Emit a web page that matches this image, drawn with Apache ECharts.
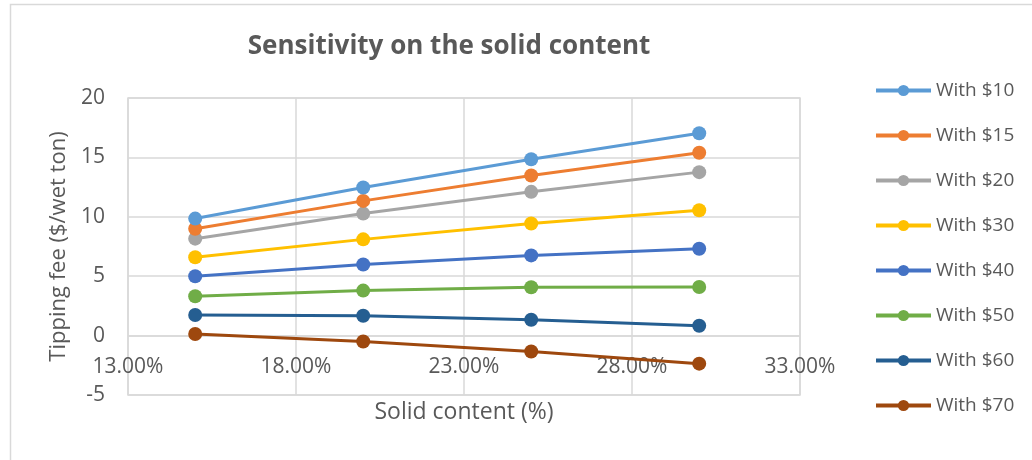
<!DOCTYPE html>
<html>
<head>
<meta charset="utf-8">
<script src="https://cdn.jsdelivr.net/npm/echarts@6/dist/echarts.min.js"></script>
<style>
  html, body { margin: 0; padding: 0; background: #ffffff; overflow: hidden; }
  #chart { width: 1032px; height: 460px; }
</style>
</head>
<body>
<div id="chart"></div>
<script>
// Solid content (%) at which the tipping fee was evaluated
const solidContent = [15, 20, 25, 30];

// Tipping fee ($/wet ton) for each price scenario
const seriesNames = ['With $10', 'With $15', 'With $20', 'With $30', 'With $40', 'With $50', 'With $60', 'With $70'];
const with10 = [9.85, 12.47, 14.84, 17.03];
const with15 = [9.00, 11.34, 13.48, 15.39];
const with20 = [8.16, 10.27, 12.10, 13.76];
const with30 = [6.60, 8.10, 9.43, 10.55];
const with40 = [5.00, 5.98, 6.75, 7.31];
const with50 = [3.31, 3.79, 4.07, 4.09];
const with60 = [1.73, 1.67, 1.34, 0.83];
const with70 = [0.13, -0.50, -1.34, -2.36];
const seriesValues = [with10, with15, with20, with30, with40, with50, with60, with70];

// Fee axis range and step
const feeMin = -5;
const feeMax = 20;
const feeStep = 5;

const colors = ['#5B9BD5', '#ED7D31', '#A5A5A5', '#FFC000', '#4472C4', '#70AD47', '#255E91', '#9E480E'];

const FONT = '"Open Sans", sans-serif';
const TEXT = '#595959';
const GRID_LINE = '#d9d9d9';

const GRID_TOP = 98;
const GRID_BOTTOM = 65;
const CHART_H = 460;
// The solid-content axis sits on the zero fee line: shift it up from the plot bottom
const gridHeight = CHART_H - GRID_TOP - GRID_BOTTOM;
const zeroOffset = -gridHeight * (0 - feeMin) / (feeMax - feeMin);

const chart = echarts.init(document.getElementById('chart'), null, { renderer: 'canvas' });

const series = seriesNames.map((name, i) => ({
  name: name,
  type: 'line',
  data: solidContent.map((x, j) => [x, seriesValues[i][j]]),
  symbol: 'circle',
  symbolSize: 14,
  lineStyle: { width: 3, color: colors[i] },
  itemStyle: { color: colors[i] },
  emphasis: { disabled: true },
  z: 10 - i
}));

chart.setOption({
  animation: false,
  color: colors,
  textStyle: { fontFamily: FONT },
  title: {
    text: 'Sensitivity on the solid content',
    left: 444,
    top: 29,
    textAlign: 'center',
    textStyle: { fontFamily: FONT, fontSize: 26, fontWeight: 'bold', color: TEXT }
  },
  graphic: [{
    type: 'rect',
    left: 8,
    top: 2,
    shape: { x: 0, y: 0, width: 1100, height: 520 },
    style: { fill: 'none', stroke: GRID_LINE, lineWidth: 1.5 },
    silent: true
  }],
  legend: {
    orient: 'vertical',
    left: 869,
    top: 76,
    itemWidth: 55,
    itemHeight: 14,
    itemGap: 26,
    lineStyle: { width: 4 },
    data: seriesNames,
    textStyle: { fontFamily: FONT, fontSize: 19, color: TEXT }
  },
  grid: {
    left: 128, right: 232, top: GRID_TOP, bottom: GRID_BOTTOM,
    outerBoundsMode: 'none',
    show: true, borderColor: GRID_LINE, borderWidth: 1.5
  },
  xAxis: {
    type: 'value',
    min: 13,
    max: 33,
    interval: 5,
    offset: zeroOffset,
    name: 'Solid content (%)',
    nameLocation: 'middle',
    nameGap: 65,
    nameMoveOverlap: false,
    nameTextStyle: { fontFamily: FONT, fontSize: 23, color: TEXT },
    axisLine: { onZero: false, lineStyle: { color: GRID_LINE, width: 1.5 } },
    axisTick: { show: false },
    axisLabel: {
      fontFamily: FONT, fontSize: 21, color: TEXT, margin: 21,
      formatter: v => v.toFixed(2) + '%'
    },
    splitLine: { show: true, lineStyle: { color: GRID_LINE, width: 1.5 } }
  },
  yAxis: {
    type: 'value',
    min: feeMin,
    max: feeMax,
    interval: feeStep,
    name: 'Tipping fee ($/wet ton)',
    nameLocation: 'middle',
    nameGap: 58,
    nameMoveOverlap: false,
    nameTextStyle: { fontFamily: FONT, fontSize: 22, color: TEXT },
    axisLine: { show: false, onZero: false },
    axisTick: { show: false },
    axisLabel: { fontFamily: FONT, fontSize: 21, color: TEXT, margin: 23 },
    splitLine: { show: true, lineStyle: { color: GRID_LINE, width: 1.5 } }
  },
  series: series
});
</script>
</body>
</html>
